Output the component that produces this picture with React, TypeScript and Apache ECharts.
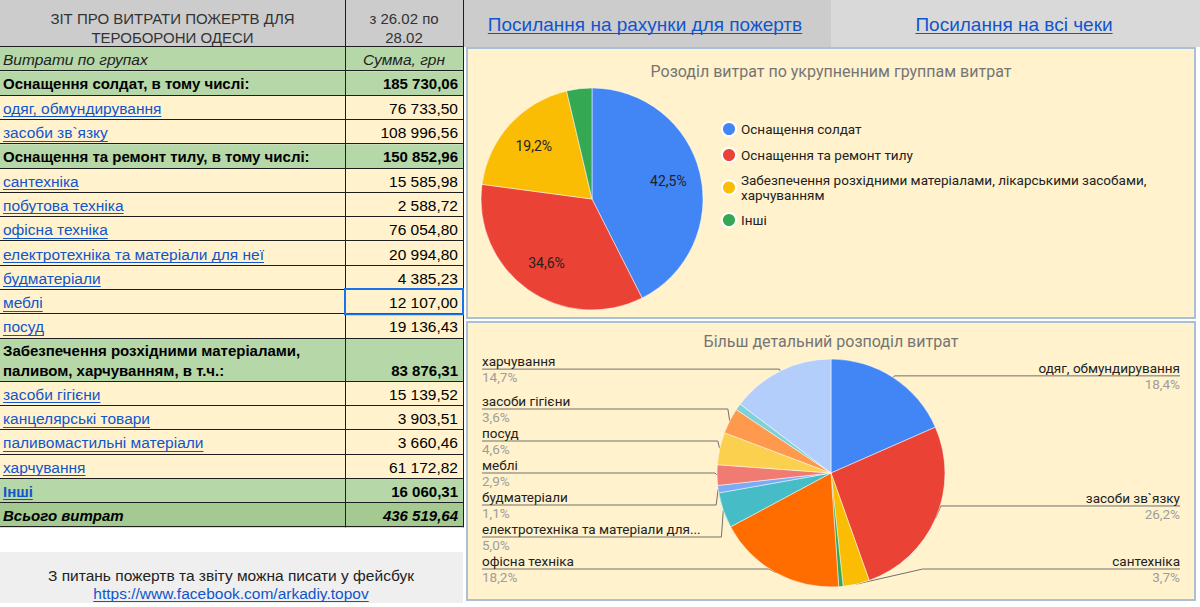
import React, { useEffect, useRef } from 'react';
import * as echarts from 'echarts';

// ---------- data ----------
const reportTitle = ['ЗІТ ПРО ВИТРАТИ ПОЖЕРТВ ДЛЯ', 'ТЕРОБОРОНИ ОДЕСИ'];
const periodLabel = ['з 26.02 по', '28.02'];
const columnHeads = ['Витрати по групах', 'Сумма, грн'];

const groupTableLabels = [
  'Оснащення солдат, в тому числі:',
  'Оснащення та ремонт тилу, в тому числі:',
  'Забезпечення розхідними матеріалами,\nпаливом, харчуванням, в т.ч.:',
  'Інші',
];
const groupNames = [
  'Оснащення солдат',
  'Оснащення та ремонт тилу',
  'Забезпечення розхідними матеріалами, лікарськими засобами, харчуванням',
  'Інші',
];
const groupValues = [185730.06, 150852.96, 83876.31, 16060.31];
const groupColors = ['#4285f4', '#ea4335', '#fbbc04', '#34a853'];

const soldierItems = ['одяг, обмундирування', 'засоби зв`язку'];
const soldierValues = [76733.5, 108996.56];
const rearItems = [
  'сантехніка',
  'побутова техніка',
  'офісна техніка',
  'електротехніка та матеріали для неї',
  'будматеріали',
  'меблі',
  'посуд',
];
const rearValues = [15585.98, 2588.72, 76054.8, 20994.8, 4385.23, 12107.0, 19136.43];
const supplyItems = ['засоби гігієни', 'канцелярські товари', 'паливомастильні матеріали', 'харчування'];
const supplyValues = [15139.52, 3903.51, 3660.46, 61172.82];
const totalLabel = 'Всього витрат';
const totalValue = 436519.64;

const detailExcluded = ['паливомастильні матеріали'];
const detailColors = [
  '#4285f4', '#ea4335', '#fbbc04', '#34a853', '#ff6d01', '#46bdc6',
  '#7baaf7', '#f07b72', '#fcd04f', '#ff994d', '#7ed1d7', '#b3cefb',
];

const linkLabels = ['Посилання на рахунки для пожертв', 'Посилання на всі чеки'];
const footerText = 'З питань пожертв та звіту можна писати у фейсбук';
const footerLink = 'https://www.facebook.com/arkadiy.topov';
const chartTitles = ['Розоділ витрат по укрупненним группам витрат', 'Більш детальний розподіл витрат'];
const selectedCell = 'меблі';

// ---------- helpers ----------
const TF = "'Liberation Sans', Arial, sans-serif";
const CF = "Roboto, 'Noto Sans', sans-serif";
const LINK = '#1155cc';

function fmt(v: number): string {
  const [i, d] = v.toFixed(2).split('.');
  return i.replace(/\B(?=(\d{3})+(?!\d))/g, ' ') + ',' + d;
}
function pct(v: number, total: number): string {
  return ((v / total) * 100).toFixed(1).replace('.', ',') + '%';
}
let measureCtx: CanvasRenderingContext2D | null = null;
function textW(text: string, font: string): number {
  if (!measureCtx) measureCtx = document.createElement('canvas').getContext('2d');
  if (!measureCtx) return text.length * 7;
  measureCtx.font = font;
  return measureCtx.measureText(text).width;
}
function fitText(text: string, maxW: number, font: string): string {
  if (textW(text, font) <= maxW) return text;
  let t = text;
  while (t.length > 1 && textW(t.trimEnd() + '...', font) > maxW) t = t.slice(0, -1);
  return t.trimEnd() + '...';
}
function txt(text: string, x: number, y: number, font: string, fill: string, align = 'left', extra: any = {}) {
  return {
    type: 'text',
    x,
    y,
    silent: true,
    style: {
      text,
      font,
      fill,
      textAlign: align,
      align,
      textVerticalAlign: 'middle',
      verticalAlign: 'middle',
      ...extra,
    },
  };
}
function hline(x1: number, x2: number, y: number, stroke: string, w = 1) {
  return { type: 'line', silent: true, shape: { x1, y1: y, x2, y2: y }, style: { stroke, lineWidth: w } };
}

function buildOption() {
  const els: any[] = [];
  const TABLE_W = 463;
  const COL_X = 345;
  const HEAD_H = 47;
  const ROW_H = 24.3;
  const TALL_H = 43;
  const valCenter = (COL_X + TABLE_W) / 2;

  // ---- top bar (right side) ----
  els.push({ type: 'rect', silent: true, shape: { x: 464, y: 0, width: 367, height: 47 }, style: { fill: '#cccccc' } });
  els.push({ type: 'rect', silent: true, shape: { x: 831, y: 0, width: 369, height: 47 }, style: { fill: '#d9d9d9' } });
  const linkCenters = [645, 1014];
  linkLabels.forEach((t, i) => {
    const f = `19px ${TF}`;
    const w = textW(t, f);
    els.push(txt(t, linkCenters[i], 24, f, LINK, 'center'));
    els.push(hline(linkCenters[i] - w / 2, linkCenters[i] + w / 2, 33.5, LINK, 1));
  });

  // ---- chart boxes ----
  els.push({ type: 'rect', silent: true, shape: { x: 467, y: 48, width: 728, height: 270 }, style: { fill: '#fff2cc', stroke: '#a9c0d6', lineWidth: 2 } });
  els.push({ type: 'rect', silent: true, shape: { x: 467, y: 322, width: 728, height: 278 }, style: { fill: '#fff2cc', stroke: '#a9c0d6', lineWidth: 2 } });
  els.push(txt(chartTitles[0], 831, 71, `16px ${CF}`, '#757575', 'center'));
  els.push(txt(chartTitles[1], 831, 341, `16px ${CF}`, '#757575', 'center'));

  // ---- table header ----
  els.push({ type: 'rect', silent: true, shape: { x: 0, y: 0, width: TABLE_W, height: HEAD_H }, style: { fill: '#cccccc' } });
  reportTitle.forEach((t, i) => els.push(txt(t, COL_X / 2, 18 + i * 19, `15px ${TF}`, '#333333', 'center')));
  periodLabel.forEach((t, i) => els.push(txt(t, valCenter, 18 + i * 19, `15px ${TF}`, '#333333', 'center')));

  type Row = { label: string; value: string; kind: string };
  const rows: Row[] = [];
  rows.push({ label: columnHeads[0], value: columnHeads[1], kind: 'colhead' });
  const sections: [string[], number[]][] = [
    [soldierItems, soldierValues],
    [rearItems, rearValues],
    [supplyItems, supplyValues],
  ];
  groupTableLabels.forEach((g, gi) => {
    rows.push({ label: g, value: fmt(groupValues[gi]), kind: gi === 3 ? 'other' : 'group' });
    const sec = sections[gi];
    if (sec) sec[0].forEach((n, k) => rows.push({ label: n, value: fmt(sec[1][k]), kind: 'item' }));
  });
  rows.push({ label: totalLabel, value: fmt(totalValue), kind: 'total' });

  const bgOf: Record<string, string> = {
    colhead: '#b6d7a8', group: '#b6d7a8', other: '#b6d7a8', item: '#fff2cc', total: '#a4ca91',
  };
  const labelFont: Record<string, string> = {
    colhead: `italic 15.5px ${TF}`,
    group: `bold 15px ${TF}`,
    other: `bold 15px ${TF}`,
    item: `15.5px ${TF}`,
    total: `italic bold 15px ${TF}`,
  };
  const valueFont: Record<string, string> = {
    colhead: `italic 15.5px ${TF}`,
    group: `bold 15px ${TF}`,
    other: `bold 15px ${TF}`,
    item: `15.5px ${TF}`,
    total: `italic bold 15px ${TF}`,
  };
  const boundaries: number[] = [HEAD_H];
  let y = HEAD_H;
  let selRect: any = null;
  rows.forEach((r) => {
    const tall = r.label.includes('\n');
    const h = tall ? TALL_H : ROW_H;
    els.push({ type: 'rect', silent: true, shape: { x: 0, y, width: TABLE_W, height: h }, style: { fill: bgOf[r.kind] } });
    const cy = y + h / 2 + 0.5;
    const isLink = r.kind === 'item' || r.kind === 'other';
    const lc = isLink ? LINK : r.kind === 'colhead' ? '#222222' : '#000000';
    els.push(txt(r.label, 3, cy, labelFont[r.kind], lc, 'left', tall ? { lineHeight: 20 } : {}));
    if (isLink) {
      const w = textW(r.label, labelFont[r.kind]);
      els.push(hline(3, 3 + w, Math.round(cy + 8) + 0.5, LINK, 1));
    }
    const vy = tall ? y + h / 2 + 10.5 : cy;
    if (r.kind === 'colhead') els.push(txt(r.value, valCenter, vy, valueFont[r.kind], '#222222', 'center'));
    else els.push(txt(r.value, TABLE_W - 5, vy, valueFont[r.kind], '#000000', 'right'));
    if (r.label === selectedCell) selRect = { y, h };
    y += h;
    boundaries.push(y);
  });
  const tableBottom = y;
  boundaries.forEach((b) => els.push(hline(0, TABLE_W, Math.round(b) - 0.5, '#1e1e1e', 1)));
  [COL_X, TABLE_W].forEach((x) =>
    els.push({ type: 'line', silent: true, shape: { x1: x + 0.5, y1: 0, x2: x + 0.5, y2: tableBottom }, style: { stroke: '#1e1e1e', lineWidth: 1 } })
  );
  if (selRect) {
    els.push({
      type: 'rect', silent: true,
      shape: { x: COL_X, y: selRect.y - 1, width: TABLE_W - COL_X, height: selRect.h + 1 },
      style: { fill: 'none', stroke: '#1a73e8', lineWidth: 2 },
    });
  }

  // ---- footer ----
  els.push({ type: 'rect', silent: true, shape: { x: 0, y: 552, width: TABLE_W, height: 51 }, style: { fill: '#efefef' } });
  els.push(txt(footerText, 231, 575, `15.5px ${TF}`, '#222222', 'center'));
  const fw = textW(footerLink, `15.5px ${TF}`);
  els.push(txt(footerLink, 231, 593, `15.5px ${TF}`, LINK, 'center'));
  els.push(hline(231 - fw / 2, 231 + fw / 2, 601.5, LINK, 1));

  // ---- pie data ----
  const groupSum = groupValues.reduce((a, b) => a + b, 0);
  const groupData = groupNames.map((n, i) => ({ name: n, value: groupValues[i], itemStyle: { color: groupColors[i] } }));
  const detailNames = [...soldierItems, ...rearItems, ...supplyItems];
  const detailValues = [...soldierValues, ...rearValues, ...supplyValues];
  const detailData = detailNames
    .map((n, i) => ({ name: n, value: detailValues[i] }))
    .filter((d) => !detailExcluded.includes(d.name))
    .map((d, i) => ({ ...d, itemStyle: { color: detailColors[i] } }));
  const detailSum = detailData.reduce((a, d) => a + d.value, 0);

  const PIE2_BOX = { left: 467, top: 322, width: 728, height: 263 };
  const PIE2_CX = 831;
  const PIE2_CY = 473;
  const LABEL_W = 222;
  const labelFontStr = `13.5px Roboto`;

  return {
    animation: false,
    backgroundColor: '#ffffff',
    graphic: { elements: els },
    legend: {
      data: groupNames,
      orient: 'vertical',
      left: 716,
      top: 116,
      icon: 'circle',
      itemWidth: 14,
      itemHeight: 14,
      itemGap: 10,
      selectedMode: false,
      formatter: (name: string) => name.replace(', харчуванням', ',\nхарчуванням'),
      textStyle: { fontFamily: CF, fontSize: 13.5, color: '#222222', lineHeight: 14.5 },
    },
    series: [
      {
        type: 'pie',
        name: 'groups',
        center: [592, 199],
        radius: [0, 111],
        startAngle: 90,
        clockwise: true,
        silent: true,
        data: groupData,
        label: { show: false },
        labelLine: { show: false },
        itemStyle: { borderColor: '#ffffff', borderWidth: 0.5 },
      },
      {
        type: 'pie',
        name: 'groupLabels',
        center: [592, 199],
        radius: [40, 111],
        startAngle: 90,
        clockwise: true,
        silent: true,
        minShowLabelAngle: 20,
        data: groupData.map((d) => ({ ...d, itemStyle: { color: 'rgba(0,0,0,0)' } })),
        label: {
          show: true,
          position: 'inside',
          formatter: (p: any) => pct(p.value, groupSum),
          color: '#222222',
          fontFamily: CF,
          fontSize: 14,
        },
        labelLine: { show: false },
      },
      {
        type: 'pie',
        name: 'detail',
        ...PIE2_BOX,
        center: [PIE2_CX - PIE2_BOX.left, PIE2_CY - PIE2_BOX.top],
        radius: [0, 114],
        startAngle: 90,
        clockwise: true,
        silent: true,
        minShowLabelAngle: 3.6,
        data: detailData,
        itemStyle: { borderColor: '#ffffff', borderWidth: 0.5 },
        label: {
          show: true,
          alignTo: 'edge',
          edgeDistance: 15,
          minMargin: 0,
          lineHeight: 16,
          width: LABEL_W,
          overflow: 'none',
          formatter: (p: any) =>
            `{n|${fitText(p.name, LABEL_W, labelFontStr)}}\n{p|${pct(p.value, detailSum)}}`,
          rich: {
            n: { fontFamily: CF, fontSize: 13.5, color: '#222222', lineHeight: 16 },
            p: { fontFamily: CF, fontSize: 13.5, color: '#9e9e9e', lineHeight: 16 },
          },
        },
        labelLine: { show: true, length: 2, length2: 10, lineStyle: { color: '#707070', width: 1 } },
        labelLayout: (params: any) => {
          const pts = params.labelLinePoints;
          if (!pts) return {};
          const isLeft = params.labelRect.x < PIE2_CX;
          pts[2][0] = isLeft ? params.labelRect.x : params.labelRect.x + params.labelRect.width;
          return { labelLinePoints: pts };
        },
      },
    ],
  };
}

export default function App() {
  const ref = useRef<HTMLDivElement>(null);
  useEffect(() => {
    if (!ref.current) return;
    const chart = echarts.init(ref.current, null, { renderer: 'svg' });
    chart.setOption(buildOption() as any);
    return () => chart.dispose();
  }, []);
  return (
    <div
      ref={ref}
      style={{ position: 'absolute', left: 0, top: 0, width: 1200, height: 607, background: '#ffffff' }}
    />
  );
}
